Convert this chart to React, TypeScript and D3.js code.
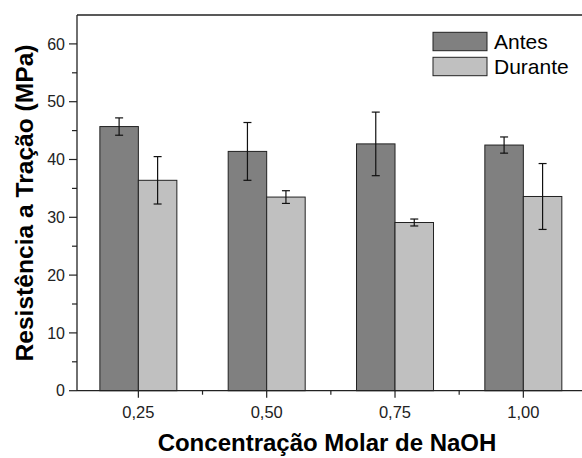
import React from 'react';
import * as d3 from 'd3';

const categories = ['0,25', '0,50', '0,75', '1,00'];
const seriesNames = ['Antes', 'Durante'];
const antes = [45.7, 41.4, 42.7, 42.5];
const antesErr = [1.5, 5.0, 5.5, 1.4];
const durante = [36.4, 33.5, 29.1, 33.6];
const duranteErr = [4.1, 1.1, 0.6, 5.7];
const yTicks = [0, 10, 20, 30, 40, 50, 60];
const yMinorTicks = [5, 15, 25, 35, 45, 55];
const colors = ['#808080', '#c0c0c0'];

const width = 582;
const height = 458;
const left = 77;
const top = 15;
const bottom = 390.7;

export default function App() {
  const y = d3.scaleLinear().domain([0, 65]).range([bottom, top]);
  const x0 = d3.scaleBand().domain(categories).range([74.2, 587.5]).paddingInner(0.4).paddingOuter(0.2);
  const x1 = d3.scaleBand().domain(seriesNames).range([0, x0.bandwidth()]);
  const values = [antes, durante];
  const errs = [antesErr, duranteErr];
  const font = 'Liberation Sans, Arial, sans-serif';

  return (
    <svg width={width} height={height} style={{ position: 'absolute', left: 0, top: 0, background: '#fff' }} fontFamily={font}>
      {/* bars */}
      {categories.map((c, i) => (
        <g key={c} transform={`translate(${x0(c)},0)`}>
          {seriesNames.map((s, j) => (
            <rect key={s} x={x1(s)} y={y(values[j][i])} width={x1.bandwidth()} height={bottom - y(values[j][i])}
              fill={colors[j]} stroke="#222" strokeWidth={1} />
          ))}
        </g>
      ))}
      {/* error bars */}
      {categories.map((c, i) => seriesNames.map((s, j) => {
        const cx = (x0(c) as number) + (x1(s) as number) + x1.bandwidth() / 2;
        const hi = y(values[j][i] + errs[j][i]);
        const lo = y(values[j][i] - errs[j][i]);
        return (
          <g key={c + s} stroke="#111" strokeWidth={1.2}>
            <line x1={cx} x2={cx} y1={hi} y2={lo} />
            <line x1={cx - 4} x2={cx + 4} y1={hi} y2={hi} />
            <line x1={cx - 4} x2={cx + 4} y1={lo} y2={lo} />
          </g>
        );
      }))}
      {/* frame */}
      <g stroke="#222" strokeWidth={1.3}>
        <line x1={left} x2={width} y1={top} y2={top} />
        <line x1={left} x2={width} y1={bottom} y2={bottom} />
        <line x1={left} x2={left} y1={top} y2={bottom} />
      </g>
      {/* y axis ticks */}
      {yTicks.map(t => (
        <g key={t}>
          <line x1={left - 8} x2={left} y1={y(t)} y2={y(t)} stroke="#222" strokeWidth={1.2} />
          <text x={left - 12} y={y(t)} dy="0.35em" textAnchor="end" fontSize={16} fill="#222">{t}</text>
        </g>
      ))}
      {yMinorTicks.map(t => (
        <line key={t} x1={left - 5} x2={left} y1={y(t)} y2={y(t)} stroke="#222" strokeWidth={1.2} />
      ))}
      {/* x axis ticks */}
      {categories.map((c, i) => {
        const cx = (x0(c) as number) + x0.bandwidth() / 2;
        return (
          <g key={c}>
            <line x1={cx} x2={cx} y1={bottom} y2={bottom + 7} stroke="#222" strokeWidth={1.2} />
            {i < categories.length - 1 && (
              <line x1={cx + x0.step() / 2} x2={cx + x0.step() / 2} y1={bottom} y2={bottom + 4} stroke="#222" strokeWidth={1.2} />
            )}
            <text x={cx} y={bottom + 27} textAnchor="middle" fontSize={16.5} fill="#222">{c}</text>
          </g>
        );
      })}
      {/* titles */}
      <text x={327} y={451} textAnchor="middle" fontSize={24} fontWeight="bold" fill="#000">Concentração Molar de NaOH</text>
      <text transform={`translate(33,203) rotate(-90)`} textAnchor="middle" fontSize={24.6} fontWeight="bold" fill="#000">Resistência a Tração (MPa)</text>
      {/* legend */}
      {seriesNames.map((s, j) => (
        <g key={s} transform={`translate(433,${32.3 + j * 25})`}>
          <rect x={0} y={0} width={54} height={18.4} fill={colors[j]} stroke="#222" strokeWidth={1} />
          <text x={61} y={17} fontSize={21} fill="#000">{s}</text>
        </g>
      ))}
    </svg>
  );
}
